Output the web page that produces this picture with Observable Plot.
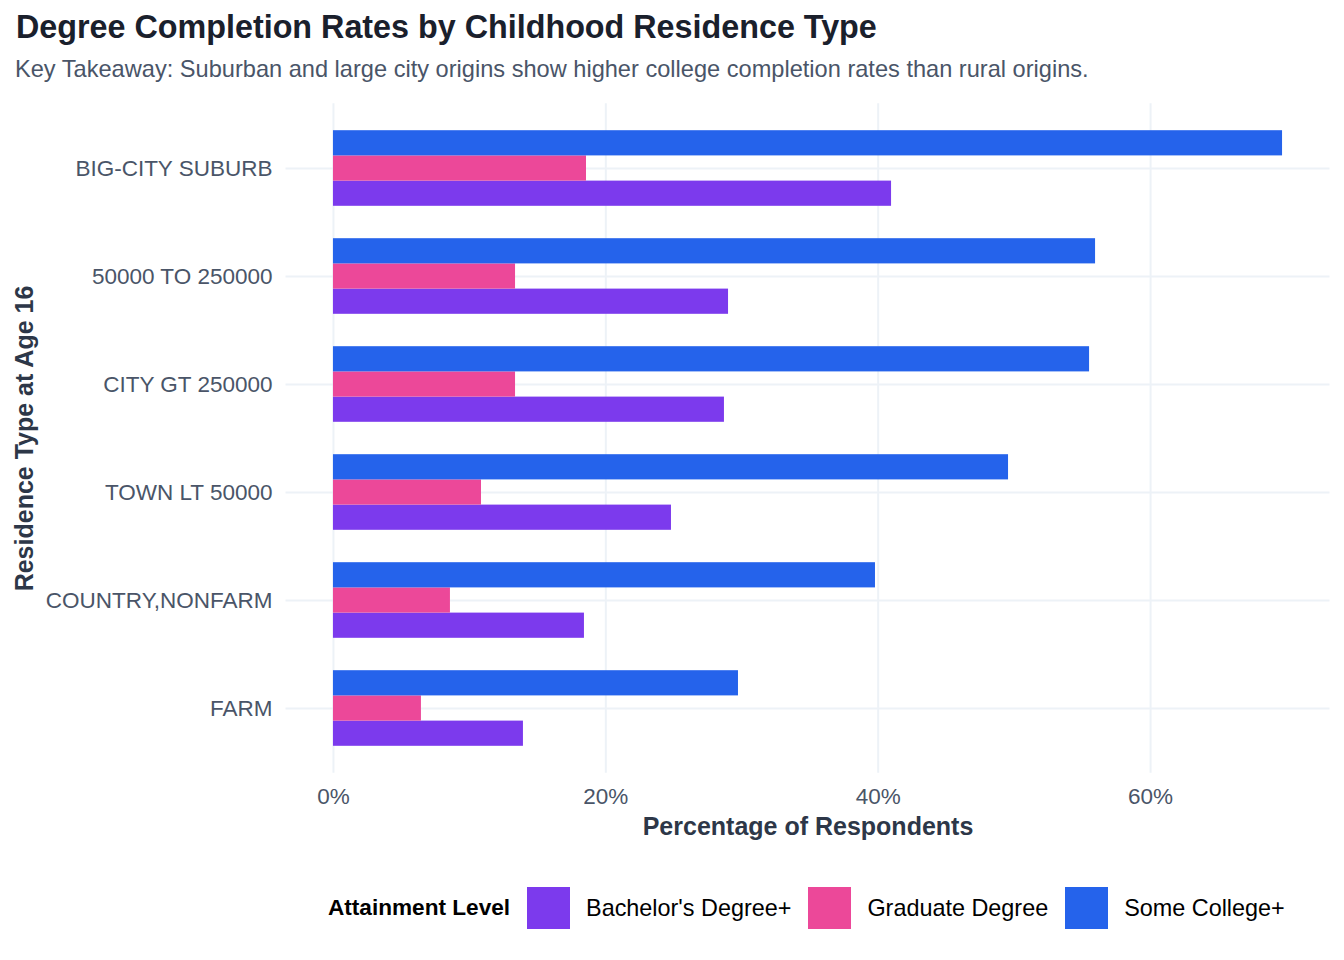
<!DOCTYPE html>
<html>
<head>
<meta charset="utf-8">
<script src="https://cdn.jsdelivr.net/npm/d3@7"></script>
<script src="https://cdn.jsdelivr.net/npm/@observablehq/plot@0.6"></script>
<style>
  html, body { margin: 0; padding: 0; background: #ffffff; }
  body { width: 1344px; height: 960px; overflow: hidden; font-family: "Liberation Sans", Arial, sans-serif; }
  #title { box-sizing: content-box; padding: 6.5px 0 0 16px; height: 40px; line-height: 40px; font-size: 32.3px; font-weight: bold; color: #1a202c; white-space: nowrap; }
  #subtitle { margin-top: 7.5px; padding-left: 15px; height: 30px; line-height: 30px; font-size: 23.6px; color: #4a5568; white-space: nowrap; }
  #chart { height: 766px; }
  #chart svg { display: block; }
  #legend { margin-top: 37px; height: 42px; display: flex; align-items: center; padding-left: 328px; color: #000; font-size: 23.4px; white-space: nowrap; }
  #legend .ltitle { font-weight: bold; font-size: 22.6px; margin-right: 17px; }
  #legend .sw { width: 43px; height: 42px; margin-right: 16px; flex: none; }
  #legend .lab { margin-right: 17px; }
</style>
</head>
<body>
<div id="title">Degree Completion Rates by Childhood Residence Type</div>
<div id="subtitle">Key Takeaway: Suburban and large city origins show higher college completion rates than rural origins.</div>
<div id="chart"></div>
<div id="legend"></div>
<script>
const categories = ["BIG-CITY SUBURB", "50000 TO 250000", "CITY GT 250000", "TOWN LT 50000", "COUNTRY,NONFARM", "FARM"];
const levels = ["Bachelor's Degree+", "Graduate Degree", "Some College+"];
const levelColors = ["#7c3aed", "#ec4899", "#2563eb"];
const bachelors = [40.98, 29.01, 28.71, 24.82, 18.43, 13.95];
const graduate = [18.58, 13.37, 13.37, 10.87, 8.59, 6.46];
const someCollege = [69.69, 55.96, 55.52, 49.57, 39.80, 29.74];
const xTicks = [0, 20, 40, 60];
const xTitle = "Percentage of Respondents";
const yTitle = "Residence Type at Age 16";
const legendTitle = "Attainment Level";

const seriesValues = [bachelors, graduate, someCollege];
const rowsBy = seriesValues.map((vals, s) => categories.map((c, i) => ({category: c, level: levels[s], value: vals[i]})));
const allRows = rowsBy.flat();

// layout
const W = 1344, H = 766, MT = 19.2, MB = 77.2, ML = 285.5, MR = 14.5;
const outer = 0.6; // half-category expansion like ggplot's discrete axis
const padOuter = outer - 0.5;
const step = (H - MT - MB) / (categories.length + 2 * padOuter);
const groupFrac = 0.7;
const barH = step * groupFrac / 3;
const groupTop = step * (1 - groupFrac) / 2;
// dodge order within each band, top to bottom: Some College+, Graduate, Bachelor's
const slot = {"Some College+": 0, "Graduate Degree": 1, "Bachelor's Degree+": 2};

const maxV = d3.max(allRows, d => d.value);
const expand = maxV * 0.05;
const gridColor = "#edf2f7";
const font = "'Liberation Sans', Arial, sans-serif";

const barMarks = levels.map((lv, s) => {
  const k = slot[lv];
  const top = groupTop + k * barH;
  return Plot.barX(rowsBy[s], {
    y: "category", x: "value", fill: "level",
    insetTop: top, insetBottom: step - top - barH
  });
});

const chart = Plot.plot({
  width: W,
  height: H,
  marginTop: MT,
  marginBottom: MB,
  marginLeft: ML,
  marginRight: MR,
  style: {fontFamily: font, fontSize: "22.5px", background: "#ffffff", color: "#4a5568"},
  y: {domain: categories, paddingInner: 0, paddingOuter: padOuter, round: false},
  x: {domain: [-expand, maxV + expand]},
  color: {domain: levels, range: levelColors},
  marks: [
    Plot.gridX({ticks: xTicks, stroke: gridColor, strokeOpacity: 1, strokeWidth: 2}),
    Plot.gridY({stroke: gridColor, strokeOpacity: 1, strokeWidth: 2}),
    ...barMarks,
    Plot.axisX({ticks: xTicks, tickSize: 0, tickPadding: 14.5, tickFormat: d => d + "%", fill: "#4a5568", fontSize: 22.5, label: null}),
    Plot.axisY({tickSize: 0, tickPadding: 13.5, fill: "#4a5568", fontSize: 22.5, label: null}),
    Plot.text([xTitle], {frameAnchor: "bottom", textAnchor: "middle", lineAnchor: "middle", dy: 53.5, text: d => d, fill: "#2d3748", fontSize: 25, fontWeight: "bold"}),
    Plot.text([yTitle], {frameAnchor: "left", textAnchor: "middle", lineAnchor: "middle", rotate: -90, dx: -261, text: d => d, fill: "#2d3748", fontSize: 25, fontWeight: "bold"})
  ]
});
document.getElementById("chart").appendChild(chart);

const legend = document.getElementById("legend");
const lt = document.createElement("span");
lt.className = "ltitle";
lt.textContent = legendTitle;
legend.appendChild(lt);
levels.forEach((lv, i) => {
  const sw = document.createElement("span");
  sw.className = "sw";
  sw.style.background = levelColors[i];
  legend.appendChild(sw);
  const lab = document.createElement("span");
  lab.className = "lab";
  lab.textContent = lv;
  legend.appendChild(lab);
});
</script>
</body>
</html>
